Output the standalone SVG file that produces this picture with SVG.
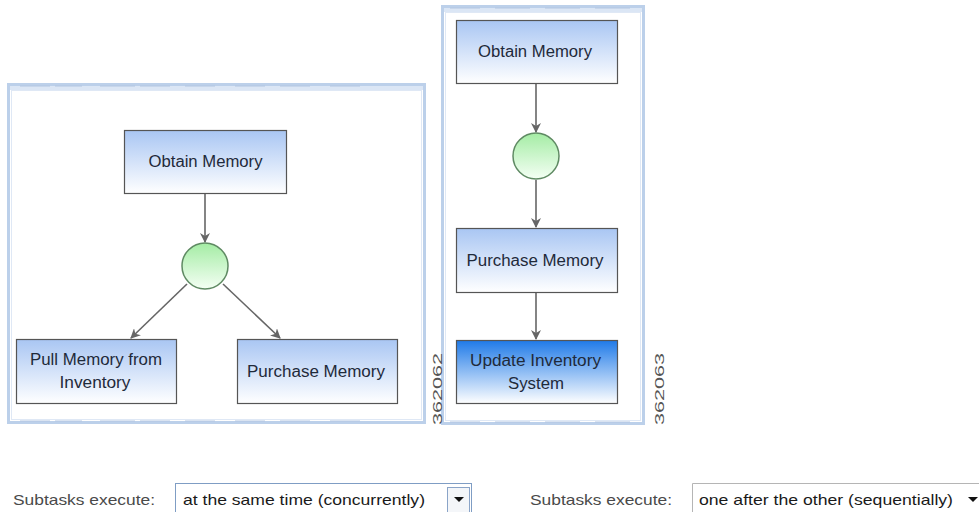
<svg xmlns="http://www.w3.org/2000/svg" width="979" height="512" viewBox="0 0 979 512">
  <style>
    .frame { fill: #ffffff; stroke: #bcd0ea; stroke-width: 3; }
    .frame-in { fill: none; stroke: #dfe8f5; stroke-width: 1; }
    .band { fill: #dbe6f5; }
    .dash { stroke: #b3c6e2; stroke-width: 1; }
    .box { fill: url(#taskFill); stroke: #555; stroke-width: 1.2; }
    .box-sel { fill: url(#selFill); stroke: #555; stroke-width: 1.2; }
    .gate { fill: url(#gateFill); stroke: #5f8a63; stroke-width: 1.5; }
    .lbl { font-family: "Liberation Sans", Arial, sans-serif; font-size: 16px; fill: #1f2a3a; text-anchor: middle; }
    .fig { font-family: "Liberation Sans", Arial, sans-serif; font-size: 13px; fill: #555; }
    .edge { stroke: #666; stroke-width: 1.6; fill: none; marker-end: url(#arrow); }
    .ui { font-family: "Liberation Sans", Arial, sans-serif; font-size: 15px; }
  </style>
  <defs>
    <linearGradient id="taskFill" x1="0" y1="0" x2="0" y2="1">
      <stop offset="0" stop-color="#a9c6f3"/>
      <stop offset="1" stop-color="#ffffff"/>
    </linearGradient>
    <linearGradient id="selFill" x1="0" y1="0" x2="0" y2="1">
      <stop offset="0" stop-color="#1f7ae8"/>
      <stop offset="1" stop-color="#ffffff"/>
    </linearGradient>
    <linearGradient id="gateFill" x1="0" y1="0" x2="0" y2="1">
      <stop offset="0" stop-color="#a4eca4"/>
      <stop offset="1" stop-color="#f4fff4"/>
    </linearGradient>
    <marker id="arrow" markerWidth="10" markerHeight="10" refX="9" refY="5" orient="auto" markerUnits="userSpaceOnUse">
      <path d="M0,0 L10,5 L0,10 L3,5 z" fill="#666"/>
    </marker>
  </defs>

  <!-- concurrent panel -->
  <g id="panel-concurrent">
    <rect class="frame" x="8.5" y="84.5" width="416" height="338"/>
    <rect class="band" x="10" y="86" width="413" height="4"/>
    <g class="dash">
      <line x1="20" y1="86" x2="50" y2="86"/><line x1="55" y1="86" x2="82" y2="86"/>
      <line x1="100" y1="86" x2="135" y2="86"/><line x1="140" y1="86" x2="170" y2="86"/>
      <line x1="185" y1="86" x2="215" y2="86"/><line x1="235" y1="86" x2="265" y2="86"/>
      <line x1="280" y1="86" x2="310" y2="86"/><line x1="330" y1="86" x2="360" y2="86"/>
      <line x1="20" y1="421" x2="50" y2="421"/><line x1="55" y1="421" x2="82" y2="421"/>
      <line x1="100" y1="421" x2="135" y2="421"/><line x1="140" y1="421" x2="170" y2="421"/>
      <line x1="185" y1="421" x2="215" y2="421"/><line x1="235" y1="421" x2="265" y2="421"/>
      <line x1="280" y1="421" x2="310" y2="421"/><line x1="330" y1="421" x2="360" y2="421"/>
    </g>
    <rect class="frame-in" x="11.5" y="90.5" width="410" height="329"/>
  </g>

  <!-- sequential panel -->
  <g id="panel-sequential">
    <rect class="frame" x="442.5" y="6.5" width="201" height="417"/>
    <rect class="band" x="444" y="8" width="198" height="4"/>
    <g class="dash">
      <line x1="450" y1="8" x2="480" y2="8"/><line x1="495" y1="8" x2="530" y2="8"/>
      <line x1="545" y1="8" x2="580" y2="8"/><line x1="595" y1="8" x2="630" y2="8"/>
      <line x1="450" y1="422" x2="480" y2="422"/><line x1="495" y1="422" x2="530" y2="422"/>
      <line x1="545" y1="422" x2="580" y2="422"/><line x1="595" y1="422" x2="630" y2="422"/>
    </g>
    <rect class="frame-in" x="445.5" y="12.5" width="195" height="408"/>
  </g>

  <!-- figure numbers -->
  <text class="fig" transform="translate(442,425) rotate(-90)" textLength="72" lengthAdjust="spacingAndGlyphs">362062</text>
  <text class="fig" transform="translate(664,425) rotate(-90)" textLength="72" lengthAdjust="spacingAndGlyphs">362063</text>

  <!-- connectors -->
  <g id="connectors">
    <line class="edge" x1="205" y1="194" x2="205" y2="242"/>
    <line class="edge" x1="187" y1="284" x2="131" y2="338"/>
    <line class="edge" x1="223" y1="284" x2="280" y2="338"/>
    <line class="edge" x1="536" y1="84" x2="536" y2="132"/>
    <line class="edge" x1="536" y1="180" x2="536" y2="227"/>
    <line class="edge" x1="536" y1="293" x2="536" y2="339"/>
  </g>

  <!-- concurrent nodes -->
  <g id="c-obtain">
    <rect class="box" x="124.5" y="130.5" width="162" height="63"/>
    <text class="lbl" x="205.5" y="167" textLength="114" lengthAdjust="spacingAndGlyphs">Obtain Memory</text>
  </g>
  <g id="c-gate">
    <circle class="gate" cx="205" cy="266" r="23"/>
  </g>
  <g id="c-pull">
    <rect class="box" x="16.5" y="339.5" width="160" height="64"/>
    <text class="lbl" x="96" y="365" textLength="132" lengthAdjust="spacingAndGlyphs">Pull Memory from</text>
    <text class="lbl" x="95" y="388" textLength="71" lengthAdjust="spacingAndGlyphs">Inventory</text>
  </g>
  <g id="c-purchase">
    <rect class="box" x="237.5" y="339.5" width="160" height="64"/>
    <text class="lbl" x="316" y="377" textLength="138" lengthAdjust="spacingAndGlyphs">Purchase Memory</text>
  </g>

  <!-- sequential nodes -->
  <g id="s-obtain">
    <rect class="box" x="456.5" y="20.5" width="161" height="63"/>
    <text class="lbl" x="535" y="57" textLength="114" lengthAdjust="spacingAndGlyphs">Obtain Memory</text>
  </g>
  <g id="s-gate">
    <circle class="gate" cx="536" cy="156" r="23"/>
  </g>
  <g id="s-purchase">
    <rect class="box" x="456.5" y="228.5" width="161" height="64"/>
    <text class="lbl" x="535" y="266" textLength="137" lengthAdjust="spacingAndGlyphs">Purchase Memory</text>
  </g>
  <g id="s-update">
    <rect class="box-sel" x="456.5" y="340.5" width="161" height="63"/>
    <text class="lbl" x="535.5" y="366" textLength="131" lengthAdjust="spacingAndGlyphs">Update Inventory</text>
    <text class="lbl" x="536" y="389" textLength="56" lengthAdjust="spacingAndGlyphs">System</text>
  </g>

  <!-- execution mode controls -->
  <g id="ctrl-concurrent">
    <text class="ui" x="13" y="505" fill="#4a4a4a" textLength="142" lengthAdjust="spacingAndGlyphs">Subtasks execute:</text>
    <rect x="175.5" y="483.5" width="296" height="30" fill="#ffffff" stroke="#7f9dc4" stroke-width="1"/>
    <text class="ui" x="183" y="505" fill="#1a1a1a" textLength="242" lengthAdjust="spacingAndGlyphs">at the same time (concurrently)</text>
    <rect x="447.5" y="487.5" width="22" height="25" fill="#f4f6f9" stroke="#8aa4c8" stroke-width="1"/>
    <path d="M454,497 L464,497 L459,502 z" fill="#111"/>
  </g>
  <g id="ctrl-sequential">
    <text class="ui" x="530" y="505" fill="#4a4a4a" textLength="142" lengthAdjust="spacingAndGlyphs">Subtasks execute:</text>
    <path d="M692.5,512 L692.5,483.5 L979,483.5" fill="none" stroke="#b5b5b5" stroke-width="1"/>
    <text class="ui" x="699" y="505" fill="#1a1a1a" textLength="254" lengthAdjust="spacingAndGlyphs">one after the other (sequentially)</text>
    <path d="M968,497 L978,497 L973,502 z" fill="#111"/>
  </g>
</svg>
